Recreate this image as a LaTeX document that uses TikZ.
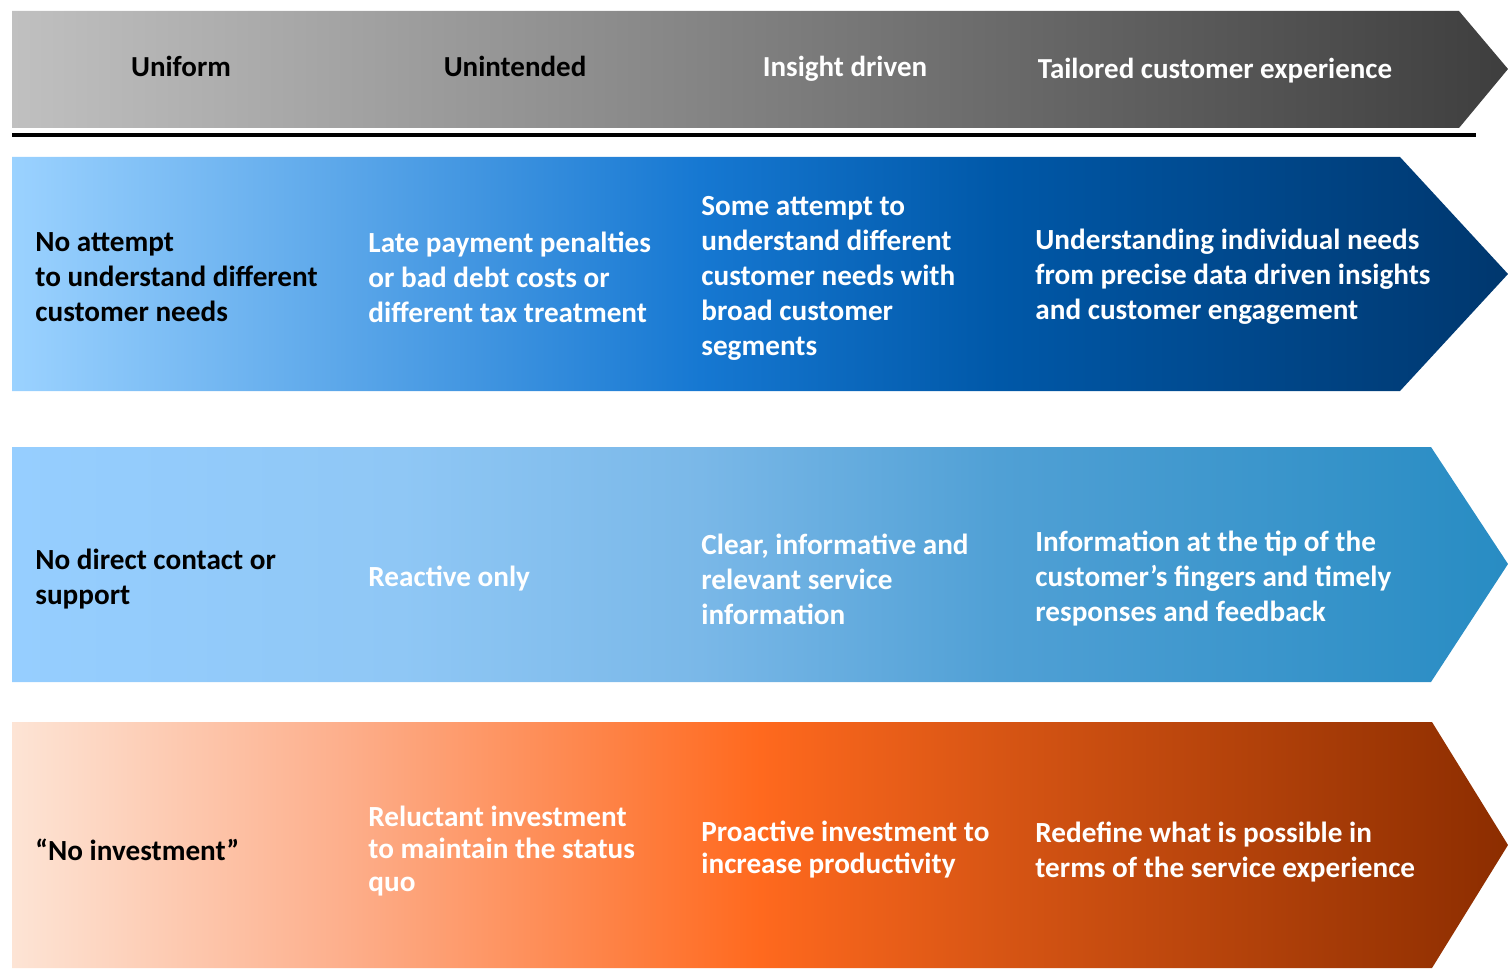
\documentclass[tikz,border=0pt]{standalone}
\usepackage{fontspec}
\setmainfont{Carlito}
\usepackage{tikz}

\definecolor{hdrL}{RGB}{192,192,192}
\definecolor{hdrR}{RGB}{62,62,62}
\definecolor{rowAa}{RGB}{155,210,255}
\definecolor{rowAb}{RGB}{22,120,210}
\definecolor{rowAc}{RGB}{0,88,168}
\definecolor{rowAd}{RGB}{0,55,110}
\definecolor{rowBa}{RGB}{150,206,255}
\definecolor{rowBb}{RGB}{143,199,245}
\definecolor{rowBc}{RGB}{122,184,232}
\definecolor{rowBd}{RGB}{80,160,213}
\definecolor{rowBe}{RGB}{40,140,195}
\definecolor{rowCa}{RGB}{253,228,213}
\definecolor{rowCb}{RGB}{253,175,140}
\definecolor{rowCc}{RGB}{255,105,30}
\definecolor{rowCd}{RGB}{215,85,20}
\definecolor{rowCe}{RGB}{140,45,0}

\pgfdeclarehorizontalshading{hdrshade}{100bp}{color(0bp)=(hdrL); color(25bp)=(hdrL);
  color(75bp)=(hdrR); color(100bp)=(hdrR)}
\pgfdeclarehorizontalshading{rowAshade}{100bp}{color(0bp)=(rowAa); color(25bp)=(rowAa);
  color(48bp)=(rowAb); color(58bp)=(rowAc); color(75bp)=(rowAd); color(100bp)=(rowAd)}
\pgfdeclarehorizontalshading{rowBshade}{100bp}{color(0bp)=(rowBa); color(25bp)=(rowBa);
  color(38bp)=(rowBb); color(48bp)=(rowBc); color(58bp)=(rowBd); color(75bp)=(rowBe); color(100bp)=(rowBe)}
\pgfdeclarehorizontalshading{rowCshade}{100bp}{color(0bp)=(rowCa); color(25bp)=(rowCa);
  color(36bp)=(rowCb); color(50bp)=(rowCc); color(58bp)=(rowCd); color(75bp)=(rowCe); color(100bp)=(rowCe)}

\begin{document}
\begin{tikzpicture}[x=0.5pt, y=-0.5pt,
    head/.style={inner sep=0pt, anchor=base, font=\fontsize{14.5}{17}\selectfont\bfseries},
    cell/.style={anchor=west, inner sep=0pt, align=left, font=\fontsize{14.6}{17.5}\selectfont\bfseries}]

    \useasboundingbox (0,0) rectangle (1508,968);

    % header arrow and rule
    \shade[shading=hdrshade] (12,11) -- (1459,11) -- (1508,69) -- (1459,128) -- (12,128) -- cycle;
    \draw[line width=2pt] (12,135) -- (1476,135);

    % row arrows
    \shade[shading=rowAshade] (12,157) -- (1400,157) -- (1508,274) -- (1400,391) -- (12,391) -- cycle;
    \shade[shading=rowBshade] (12,447) -- (1431,447) -- (1508,564) -- (1431,682) -- (12,682) -- cycle;
    \shade[shading=rowCshade] (12,722) -- (1432,722) -- (1508,845) -- (1432,968) -- (12,968) -- cycle;

    \node[head] (hdUniform) at (181,77) {Uniform};
    \node[head] (hdUnintended) at (515,77) {Unintended};
    \node[head, white] (hdInsight) at (845,77) {Insight driven};
    \node[head, white] (hdTailored) at (1215,79) {Tailored customer experience};

    \node[cell] (nA1) at (35,277) {No attempt\\to understand different\\customer needs};
    \node[cell, white] (nA2) at (368,277) {Late payment penalties\\or bad debt costs or\\different tax treatment};
    \node[cell, white] (nA3) at (701,278) {Some attempt to\\understand different\\customer needs with\\broad customer\\segments};
    \node[cell, white] (nA4) at (1035,277) {Understanding individual needs\\from precise data driven insights\\and customer engagement};

    \node[cell] (nB1) at (35,579) {No direct contact or\\support};
    \node[cell, white] (nB2) at (368,579) {Reactive only};
    \node[cell, white] (nB3) at (701,579) {Clear, informative and\\relevant service\\information};
    \node[cell, white] (nB4) at (1035,579) {Information at the tip of the\\customer’s fingers and timely\\responses and feedback};

    \node[cell] (nC1) at (35,850) {“No investment”};
    \node[cell, white, font=\fontsize{14.6}{16.3}\selectfont\bfseries] (nC2) at (368,851) {Reluctant investment\\to maintain the status\\quo};
    \node[cell, white, font=\fontsize{14.6}{16}\selectfont\bfseries] (nC3) at (701,850) {Proactive investment to\\increase productivity};
    \node[cell, white] (nC4) at (1035,852) {Redefine what is possible in\\terms of the service experience};
\end{tikzpicture}
\end{document}
